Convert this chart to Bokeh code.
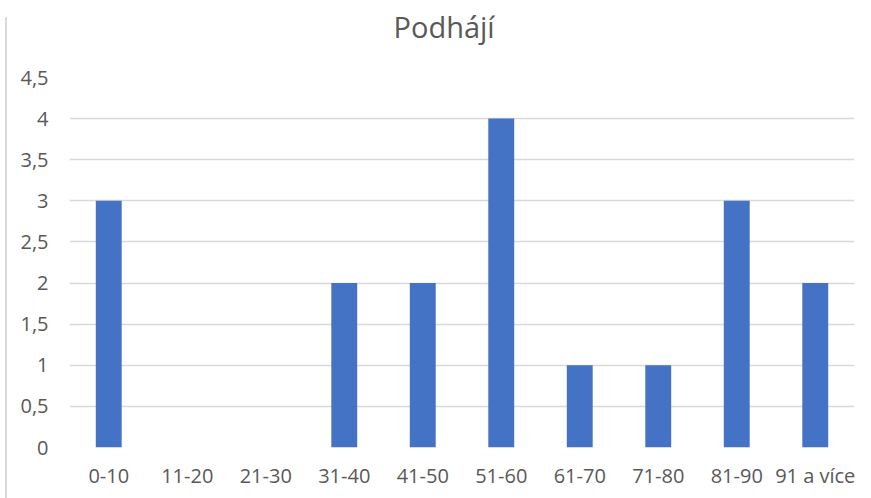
from bokeh.plotting import figure
from bokeh.embed import file_html
from bokeh.resources import INLINE
from bokeh.models import FixedTicker, CustomJSTickFormatter, Range1d, Title

categories = ["0-10", "11-20", "21-30", "31-40", "41-50", "51-60", "61-70", "71-80", "81-90", "91 a více"]
values = [3, 0, 0, 2, 2, 4, 1, 1, 3, 2]
y_ticks = [0, 0.5, 1, 1.5, 2, 2.5, 3, 3.5, 4, 4.5]
title_text = "Podhájí"

FONT = "Open Sans"
GRAY = "#595959"

p = figure(x_range=categories, y_range=Range1d(0, 4.5), width=871, height=498,
           output_backend="svg", toolbar_location=None, title_location=None,
           min_border_left=69, min_border_right=17, min_border_top=77, min_border_bottom=51)
p.vbar(x=categories, top=values, width=0.33, fill_color="#4472C4", line_color=None)

# spacer panel between title and frame
spacer = Title(text=" ", text_font=FONT, text_font_size="22px", standoff=0)
p.add_layout(spacer, "above")
main_title = Title(text=title_text, align="left", offset=324, standoff=0,
                   text_font=FONT, text_font_size="29px", text_font_style="normal",
                   text_color=GRAY)
p.add_layout(main_title, "above")

p.outline_line_color = None
p.xgrid.grid_line_color = None
p.ygrid.grid_line_color = "#d9d9d9"
p.ygrid.grid_line_width = 1.5
p.yaxis.ticker = FixedTicker(ticks=y_ticks)
p.yaxis.formatter = CustomJSTickFormatter(code="return tick.toString().replace('.', ',');")
for ax in (p.xaxis, p.yaxis):
    ax.axis_line_color = None
    ax.major_tick_line_color = None
    ax.minor_tick_line_color = None
    ax.major_label_text_font = FONT
    ax.major_label_text_font_size = "20px"
    ax.major_label_text_color = GRAY
p.yaxis.major_label_standoff = 15
p.xaxis.major_label_standoff = 8

html = file_html(p, INLINE)
html = html.replace("</body>", "<div style=\"position:fixed;z-index:1000;left:5px;top:17px;width:2px;height:481px;background:#d9d9d9\"></div></body>", 1)
open("out.html", "w").write(html)
